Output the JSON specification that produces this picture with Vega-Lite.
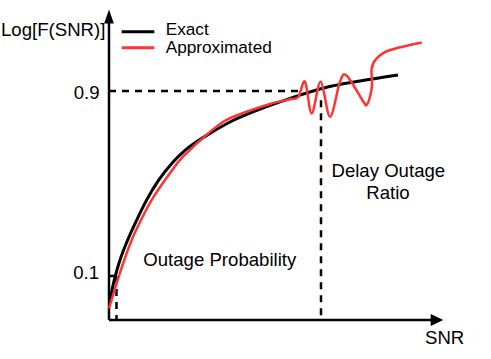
{
  "$schema": "https://vega.github.io/schema/vega-lite/v6.json",
  "width": 491,
  "height": 359,
  "padding": 0,
  "autosize": {"type": "fit", "contains": "padding"},
  "config": {"view": {"stroke": null}, "text": {"font": "Liberation Sans", "fontSize": 18.6, "color": "black"}},
  "datasets": {
    "curves": [
      {"series": "Exact", "i": 1, "snr": 0.1, "f": -0.004},
      {"series": "Exact", "i": 2, "snr": 0.53, "f": 0.083},
      {"series": "Exact", "i": 3, "snr": 1.1, "f": 0.169},
      {"series": "Exact", "i": 4, "snr": 1.87, "f": 0.256},
      {"series": "Exact", "i": 5, "snr": 2.77, "f": 0.342},
      {"series": "Exact", "i": 6, "snr": 3.77, "f": 0.429},
      {"series": "Exact", "i": 7, "snr": 4.93, "f": 0.512},
      {"series": "Exact", "i": 8, "snr": 6.43, "f": 0.594},
      {"series": "Exact", "i": 9, "snr": 7.6, "f": 0.643},
      {"series": "Exact", "i": 10, "snr": 8.6, "f": 0.676},
      {"series": "Exact", "i": 11, "snr": 9.77, "f": 0.708},
      {"series": "Exact", "i": 12, "snr": 12.1, "f": 0.766},
      {"series": "Exact", "i": 13, "snr": 14.77, "f": 0.816},
      {"series": "Exact", "i": 14, "snr": 17.1, "f": 0.853},
      {"series": "Exact", "i": 15, "snr": 18.93, "f": 0.880},
      {"series": "Exact", "i": 16, "snr": 21.4, "f": 0.912},
      {"series": "Exact", "i": 17, "snr": 25.1, "f": 0.943},
      {"series": "Exact", "i": 18, "snr": 28.9, "f": 0.969},
      {"series": "Approximated", "i": 1, "snr": 0.0, "f": -0.040},
      {"series": "Approximated", "i": 2, "snr": 0.87, "f": 0.083},
      {"series": "Approximated", "i": 3, "snr": 1.53, "f": 0.169},
      {"series": "Approximated", "i": 4, "snr": 2.27, "f": 0.256},
      {"series": "Approximated", "i": 5, "snr": 3.2, "f": 0.342},
      {"series": "Approximated", "i": 6, "snr": 4.27, "f": 0.429},
      {"series": "Approximated", "i": 7, "snr": 5.6, "f": 0.515},
      {"series": "Approximated", "i": 8, "snr": 7.1, "f": 0.602},
      {"series": "Approximated", "i": 9, "snr": 8.1, "f": 0.645},
      {"series": "Approximated", "i": 10, "snr": 9.1, "f": 0.686},
      {"series": "Approximated", "i": 11, "snr": 11.43, "f": 0.767},
      {"series": "Approximated", "i": 12, "snr": 13.77, "f": 0.810},
      {"series": "Approximated", "i": 13, "snr": 16.1, "f": 0.844},
      {"series": "Approximated", "i": 14, "snr": 18.1, "f": 0.864},
      {"series": "Approximated", "i": 15, "snr": 18.93, "f": 0.874},
      {"series": "Approximated", "i": 16, "snr": 19.6, "f": 0.940},
      {"series": "Approximated", "i": 17, "snr": 20.27, "f": 0.803},
      {"series": "Approximated", "i": 18, "snr": 21.17, "f": 0.940},
      {"series": "Approximated", "i": 19, "snr": 22.1, "f": 0.789},
      {"series": "Approximated", "i": 20, "snr": 23.1, "f": 0.940},
      {"series": "Approximated", "i": 21, "snr": 23.77, "f": 0.966},
      {"series": "Approximated", "i": 22, "snr": 25.43, "f": 0.854},
      {"series": "Approximated", "i": 23, "snr": 25.77, "f": 0.840},
      {"series": "Approximated", "i": 24, "snr": 26.1, "f": 0.875},
      {"series": "Approximated", "i": 25, "snr": 26.3, "f": 0.925},
      {"series": "Approximated", "i": 26, "snr": 26.27, "f": 0.998},
      {"series": "Approximated", "i": 27, "snr": 26.77, "f": 1.041},
      {"series": "Approximated", "i": 28, "snr": 28.1, "f": 1.077},
      {"series": "Approximated", "i": 29, "snr": 31.27, "f": 1.110}
    ],
    "axes": [
      {"x": 0, "x2": 0, "y": -0.09, "y2": 1.207},
      {"x": 0, "x2": 32.6, "y": -0.09, "y2": -0.09}
    ],
    "dashes": [
      {"x": 0, "x2": 19.1, "y": 0.9, "y2": 0.9},
      {"x": 21.2, "x2": 21.2, "y": 0.86, "y2": -0.09},
      {"x": 0, "x2": 0.75, "y": 0.1, "y2": 0.1},
      {"x": 0.75, "x2": 0.75, "y": 0.1, "y2": -0.09}
    ],
    "legend": [
      {"series": "Exact", "x": 1.27, "x2": 4.53, "y": 1.156, "lx": 5.67, "ly": 1.142},
      {"series": "Approximated", "x": 1.27, "x2": 4.53, "y": 1.087, "lx": 5.67, "ly": 1.063}
    ],
    "labelsLeft": [
      {"label": "Log[F(SNR)]", "x": -10.8, "y": 1.137},
      {"label": "Outage Probability", "x": 3.43, "y": 0.143},
      {"label": "SNR", "x": 31.6, "y": -0.195}
    ],
    "labelsRight": [
      {"label": "0.9", "x": -0.95, "y": 0.865},
      {"label": "0.1", "x": -1.0, "y": 0.0856}
    ],
    "labelsCenter": [
      {"label": "Delay Outage", "x": 27.93, "y": 0.529},
      {"label": "Ratio", "x": 27.9, "y": 0.432}
    ]
  },
  "layer": [
    {
      "data": {"name": "axes"},
      "mark": {"type": "rule", "color": "black", "strokeWidth": 2.5},
      "encoding": {
        "x": {"field": "x", "type": "quantitative", "scale": {"domain": [-10.9, 38.2], "nice": false, "zero": false}, "axis": null},
        "x2": {"field": "x2"},
        "y": {"field": "y", "type": "quantitative", "scale": {"domain": [-0.259, 1.2934], "nice": false, "zero": false}, "axis": null},
        "y2": {"field": "y2"}
      }
    },
    {
      "data": {"name": "dashes"},
      "mark": {"type": "rule", "color": "black", "strokeWidth": 2.5, "strokeDash": [7, 6]},
      "encoding": {
        "x": {"field": "x", "type": "quantitative", "scale": {"domain": [-10.9, 38.2], "nice": false, "zero": false}, "axis": null},
        "x2": {"field": "x2"},
        "y": {"field": "y", "type": "quantitative", "scale": {"domain": [-0.259, 1.2934], "nice": false, "zero": false}, "axis": null},
        "y2": {"field": "y2"}
      }
    },
    {
      "data": {"values": [{"x": 0, "y": 1.222}]},
      "mark": {"type": "point", "shape": "M0,-1L0.7,1L-0.7,1Z", "filled": true, "color": "black", "opacity": 1, "size": 196},
      "encoding": {
        "x": {"field": "x", "type": "quantitative", "scale": {"domain": [-10.9, 38.2], "nice": false, "zero": false}, "axis": null},
        "y": {"field": "y", "type": "quantitative", "scale": {"domain": [-0.259, 1.2934], "nice": false, "zero": false}, "axis": null}
      }
    },
    {
      "data": {"values": [{"x": 32.8, "y": -0.09}]},
      "mark": {"type": "point", "shape": "M1,0L-1,0.95L-1,-0.95Z", "filled": true, "color": "black", "opacity": 1, "size": 159},
      "encoding": {
        "x": {"field": "x", "type": "quantitative", "scale": {"domain": [-10.9, 38.2], "nice": false, "zero": false}, "axis": null},
        "y": {"field": "y", "type": "quantitative", "scale": {"domain": [-0.259, 1.2934], "nice": false, "zero": false}, "axis": null}
      }
    },
    {
      "data": {"name": "curves"},
      "transform": [{"filter": "datum.series === 'Exact'"}],
      "mark": {"type": "line", "interpolate": "monotone", "strokeWidth": 3},
      "encoding": {
        "x": {"field": "snr", "type": "quantitative", "scale": {"domain": [-10.9, 38.2], "nice": false, "zero": false}, "axis": null},
        "y": {"field": "f", "type": "quantitative", "scale": {"domain": [-0.259, 1.2934], "nice": false, "zero": false}, "axis": null},
        "order": {"field": "i"},
        "color": {"field": "series", "type": "nominal", "scale": {"domain": ["Exact", "Approximated"], "range": ["#000000", "#ff3333"]}, "legend": null}
      }
    },
    {
      "data": {"name": "curves"},
      "transform": [{"filter": "datum.series === 'Approximated'"}],
      "mark": {"type": "line", "interpolate": "cardinal", "strokeWidth": 2.5},
      "encoding": {
        "x": {"field": "snr", "type": "quantitative", "scale": {"domain": [-10.9, 38.2], "nice": false, "zero": false}, "axis": null},
        "y": {"field": "f", "type": "quantitative", "scale": {"domain": [-0.259, 1.2934], "nice": false, "zero": false}, "axis": null},
        "order": {"field": "i"},
        "color": {"field": "series", "type": "nominal", "scale": {"domain": ["Exact", "Approximated"], "range": ["#000000", "#ff3333"]}, "legend": null}
      }
    },
    {
      "data": {"name": "legend"},
      "mark": {"type": "rule", "strokeWidth": 3},
      "encoding": {
        "x": {"field": "x", "type": "quantitative", "scale": {"domain": [-10.9, 38.2], "nice": false, "zero": false}, "axis": null},
        "x2": {"field": "x2"},
        "y": {"field": "y", "type": "quantitative", "scale": {"domain": [-0.259, 1.2934], "nice": false, "zero": false}, "axis": null},
        "color": {"field": "series", "type": "nominal", "scale": {"domain": ["Exact", "Approximated"], "range": ["#000000", "#ff3333"]}, "legend": null}
      }
    },
    {
      "data": {"name": "legend"},
      "mark": {"type": "text", "align": "left", "baseline": "alphabetic", "fontSize": 17.2},
      "encoding": {
        "x": {"field": "lx", "type": "quantitative", "scale": {"domain": [-10.9, 38.2], "nice": false, "zero": false}, "axis": null},
        "y": {"field": "ly", "type": "quantitative", "scale": {"domain": [-0.259, 1.2934], "nice": false, "zero": false}, "axis": null},
        "text": {"field": "series"}
      }
    },
    {
      "data": {"name": "labelsLeft"},
      "mark": {"type": "text", "align": "left", "baseline": "alphabetic"},
      "encoding": {
        "x": {"field": "x", "type": "quantitative", "scale": {"domain": [-10.9, 38.2], "nice": false, "zero": false}, "axis": null},
        "y": {"field": "y", "type": "quantitative", "scale": {"domain": [-0.259, 1.2934], "nice": false, "zero": false}, "axis": null},
        "text": {"field": "label"}
      }
    },
    {
      "data": {"name": "labelsRight"},
      "mark": {"type": "text", "align": "right", "baseline": "alphabetic"},
      "encoding": {
        "x": {"field": "x", "type": "quantitative", "scale": {"domain": [-10.9, 38.2], "nice": false, "zero": false}, "axis": null},
        "y": {"field": "y", "type": "quantitative", "scale": {"domain": [-0.259, 1.2934], "nice": false, "zero": false}, "axis": null},
        "text": {"field": "label"}
      }
    },
    {
      "data": {"name": "labelsCenter"},
      "mark": {"type": "text", "align": "center", "baseline": "alphabetic"},
      "encoding": {
        "x": {"field": "x", "type": "quantitative", "scale": {"domain": [-10.9, 38.2], "nice": false, "zero": false}, "axis": null},
        "y": {"field": "y", "type": "quantitative", "scale": {"domain": [-0.259, 1.2934], "nice": false, "zero": false}, "axis": null},
        "text": {"field": "label"}
      }
    }
  ]
}
